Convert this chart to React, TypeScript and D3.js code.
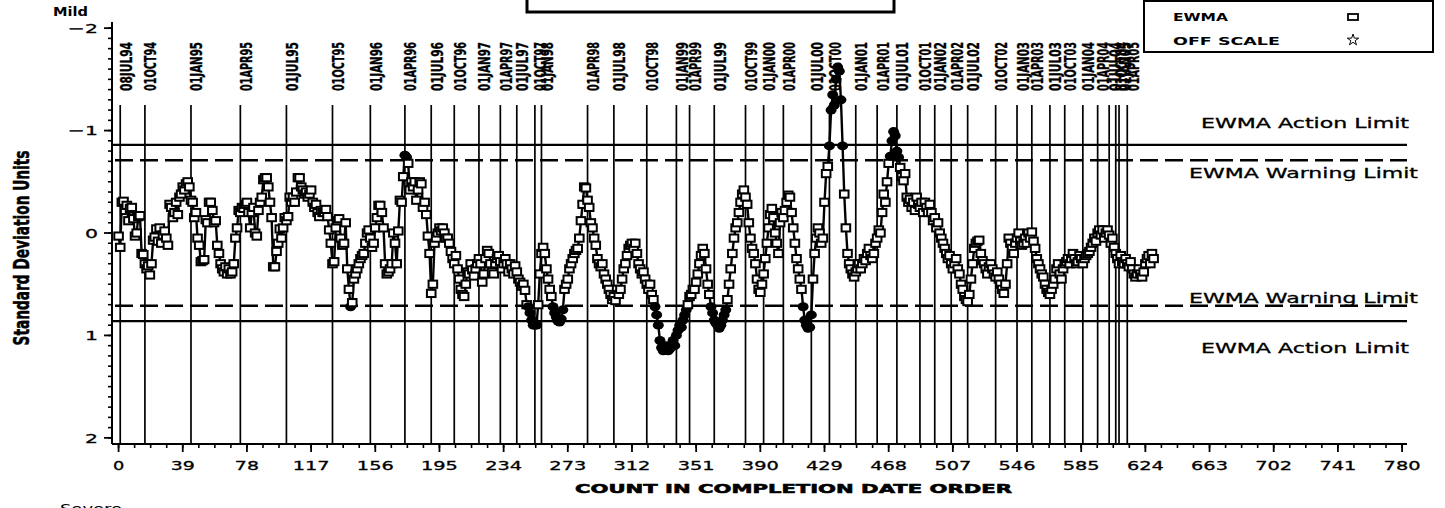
import React from 'react';
import * as d3 from 'd3';

const W = 1445;
const H = 508;

// EWMA values in standard deviation units, by count in completion date order
const ewma: number[] = [
  0.03, 0.14, -0.30, -0.31, -0.22, -0.27, -0.12, -0.24, -0.25, -0.14,
  0.03, 0.00, -0.16, -0.17, 0.20, 0.21, 0.30, 0.35, 0.32, 0.41,
  0.30, 0.07, 0.04, -0.04, 0.08, -0.05, 0.10, 0.02, -0.02, 0.05,
  0.12, -0.28, -0.25, -0.15, -0.20, -0.30, -0.18, -0.35, -0.38, -0.45,
  -0.42, -0.48, -0.50, -0.45, -0.32, -0.30, -0.15, -0.20, 0.05, 0.12,
  0.28, 0.27, 0.26, -0.13, -0.10, -0.30, -0.30, -0.22, -0.10, -0.12,
  0.12, 0.20, 0.30, 0.35, 0.38, 0.33, 0.40, 0.35, 0.40, 0.38,
  0.30, 0.05, -0.05, -0.22, -0.20, -0.25, -0.24, -0.28, -0.30, -0.20,
  -0.05, -0.20, -0.25, 0.00, 0.03, -0.22, -0.30, -0.35, -0.52, -0.54,
  -0.54, -0.45, -0.30, -0.15, 0.33, 0.33, 0.18, 0.10, -0.04, 0.05,
  -0.05, -0.15, -0.12, -0.16, -0.35, -0.30, -0.35, -0.30, -0.40, -0.54,
  -0.54, -0.45, -0.42, -0.38, -0.40, -0.35, -0.38, -0.42, -0.30, -0.25,
  -0.28, -0.20, -0.16, -0.22, -0.20, -0.20, -0.23, -0.16, -0.03, 0.10,
  0.30, 0.28, -0.05, -0.12, -0.14, 0.05, 0.12, 0.10, -0.10, 0.35,
  0.55, 0.72, 0.68, 0.45, 0.40, 0.35, 0.30, 0.25, 0.22, 0.20,
  0.10, 0.00, -0.03, 0.05, 0.14, 0.10, -0.05, -0.15, -0.27, -0.27,
  -0.20, -0.05, 0.30, 0.40, 0.38, 0.35, 0.30, 0.00, 0.10, 0.30,
  -0.02, -0.32, -0.30, -0.55, -0.76, -0.74, -0.68, -0.42, -0.50, -0.45,
  -0.50, -0.32, -0.42, -0.50, -0.48, -0.25, -0.30, -0.18, 0.03, 0.20,
  0.59, 0.50, 0.10, 0.05, 0.00, -0.05, -0.02, -0.05, 0.00, 0.05,
  0.05, 0.10, 0.18, 0.25, 0.30, 0.22, 0.35, 0.45, 0.55, 0.60,
  0.62, 0.50, 0.38, 0.40, 0.30, 0.36, 0.42, 0.35, 0.30, 0.25,
  0.30, 0.48, 0.40, 0.25, 0.17, 0.20, 0.30, 0.38, 0.40, 0.30,
  0.25, 0.22, 0.28, 0.35, 0.30, 0.25, 0.30, 0.38, 0.30, 0.35,
  0.40, 0.32, 0.38, 0.45, 0.48, 0.52, 0.50, 0.56, 0.70, 0.72,
  0.78, 0.85, 0.90, 0.88, 0.90, 0.70, 0.40, 0.20, 0.14, 0.20,
  0.35, 0.45, 0.55, 0.62, 0.72, 0.78, 0.82, 0.86, 0.87, 0.84,
  0.75, 0.55, 0.50, 0.45, 0.35, 0.30, 0.25, 0.20, 0.17, 0.15,
  0.05, -0.12, -0.28, -0.45, -0.44, -0.32, -0.25, -0.10, -0.05, 0.05,
  0.12, 0.25, 0.30, 0.33, 0.30, 0.40, 0.45, 0.50, 0.55, 0.60,
  0.65, 0.62, 0.66, 0.55, 0.60, 0.55, 0.45, 0.35, 0.30, 0.22,
  0.15, 0.12, 0.10, 0.15, 0.10, 0.20, 0.30, 0.35, 0.40, 0.38,
  0.45, 0.50, 0.55, 0.50, 0.60, 0.65, 0.72, 0.80, 0.90, 1.05,
  1.12, 1.15, 1.14, 1.10, 1.15, 1.13, 1.10, 1.05, 1.10, 1.00,
  0.95, 0.90, 0.92, 0.85, 0.80, 0.75, 0.70, 0.62, 0.60, 0.55,
  0.55, 0.48, 0.40, 0.30, 0.22, 0.15, 0.20, 0.35, 0.50, 0.60,
  0.72, 0.78, 0.85, 0.88, 0.90, 0.93, 0.90, 0.85, 0.80, 0.75,
  0.65, 0.50, 0.35, 0.20, 0.05, -0.05, -0.10, -0.20, -0.30, -0.38,
  -0.42, -0.35, -0.28, -0.10, 0.05, 0.15, 0.20, 0.30, 0.45, 0.55,
  0.58, 0.50, 0.40, 0.25, 0.10, -0.05, -0.18, -0.24, -0.15, 0.00,
  0.10, 0.20, -0.10, -0.20, -0.15, -0.22, -0.30, -0.37, -0.35, -0.20,
  -0.05, 0.10, 0.25, 0.35, 0.45, 0.55, 0.72, 0.85, 0.90, 0.93,
  0.92, 0.80, 0.45, 0.20, 0.05, -0.05, 0.00, 0.10, 0.05, -0.30,
  -0.58, -0.65, -0.85, -1.20, -1.35, -1.25, -1.50, -1.62, -1.58, -1.30,
  -0.85, -0.38, -0.05, 0.20, 0.30, 0.35, 0.40, 0.43, 0.38, 0.35,
  0.30, 0.35, 0.30, 0.25, 0.27, 0.20, 0.15, 0.22, 0.25, 0.20,
  0.10, 0.05, -0.03, 0.00, -0.20, -0.38, -0.30, -0.50, -0.68, -0.75,
  -0.90, -0.99, -0.95, -0.80, -0.74, -0.64, -0.55, -0.51, -0.58, -0.35,
  -0.30, -0.33, -0.25, -0.30, -0.22, -0.35, -0.28, -0.25, -0.30, -0.20,
  -0.30, -0.25, -0.20, -0.28, -0.20, -0.12, -0.15, -0.05, -0.10, 0.00,
  0.05, 0.10, 0.15, 0.20, 0.25, 0.22, 0.30, 0.35, 0.30, 0.25,
  0.35, 0.40, 0.50, 0.55, 0.62, 0.65, 0.67, 0.60, 0.45, 0.30,
  0.15, 0.10, 0.08, 0.07, 0.20, 0.27, 0.30, 0.35, 0.40, 0.33,
  0.30, 0.35, 0.40, 0.43, 0.38, 0.45, 0.50, 0.55, 0.59, 0.50,
  0.30, 0.05, 0.10, 0.15, 0.20, 0.10, 0.05, 0.00, 0.08, 0.12,
  0.10, 0.05, 0.10, 0.00, 0.05, -0.01, 0.08, 0.15, 0.25, 0.30,
  0.35, 0.40, 0.43, 0.50, 0.55, 0.58, 0.60, 0.55, 0.50, 0.45,
  0.35, 0.30, 0.40, 0.45, 0.35, 0.30, 0.28, 0.25, 0.30, 0.25,
  0.20, 0.25, 0.30, 0.28, 0.22, 0.25, 0.30, 0.25, 0.22, 0.20,
  0.18, 0.14, 0.10, 0.05, 0.08, 0.00, -0.03, 0.02, -0.03, 0.05,
  0.00, -0.03, 0.02, 0.10, 0.05, 0.14, 0.20, 0.25, 0.30, 0.22,
  0.28, 0.30, 0.25, 0.30, 0.33, 0.28, 0.35, 0.40, 0.43, 0.40,
  0.35, 0.40, 0.43, 0.38, 0.30, 0.25, 0.22, 0.30, 0.20, 0.25,
];

// Date reference lines (label and count where the date falls)
const dateLabels: string[] = [
  '08JUL94', '01OCT94', '01JAN95', '01APR95', '01JUL95', '01OCT95', '01JAN96', '01APR96',
  '01JUL96', '01OCT96', '01JAN97', '01APR97', '01JUL97', '01OCT97', '01JAN98', '01APR98',
  '01JUL98', '01OCT98', '01JAN99', '01APR99', '01JUL99', '01OCT99', '01JAN00', '01APR00',
  '01JUL00', '01OCT00', '01JAN01', '01APR01', '01JUL01', '01OCT01', '01JAN02', '01APR02',
  '01JUL02', '01OCT02', '01JAN03', '01APR03', '01JUL03', '01OCT03', '01JAN04', '01APR04',
  '01JUL04', '01OCT04', '01JAN05', '01APR05',
];
const dateCounts: number[] = [
  1, 16, 44, 74, 102, 130, 153, 174,
  190, 204, 219, 232, 242, 253, 257, 285,
  301, 321, 339, 347, 362, 381, 392, 404,
  421, 432, 448, 461, 473, 487, 496, 506,
  516, 533, 546, 555, 566, 575, 586, 595,
  602, 606, 608, 613,
];

const xTicks: number[] = d3.range(0, 781, 39);
const xMinorTicks: number[] = d3.range(0, 781, 9.75);
const yTicks: number[] = [-2, -1, 0, 1, 2];
const yMinorTicks: number[] = d3.range(-20, 21).map((d) => d / 10);
const actionLimit = 0.86;
const warningLimit = 0.71;

const WIDE = "'DejaVu Sans', sans-serif";
const NARROW = "'Liberation Sans Narrow', 'DejaVu Sans Condensed', 'Liberation Sans', sans-serif";

function fmtY(v: number): string {
  return v < 0 ? '\u2212' + Math.abs(v) : String(v);
}

export default function App() {
  const x = d3.scaleLinear().domain([-4, 783]).range([112, 1407]);
  const y = d3.scaleLinear().domain([-2.06, 2.06]).range([22, 444]);
  const line = d3
    .line<number>()
    .x((_, i) => x(i))
    .y((d) => y(d));
  const xL = x.range()[0];
  const xR = x.range()[1];
  const yB = y.range()[1];
  const yT = y.range()[0];

  const limitLabels = [
    { text: 'EWMA Action Limit', y: 128, w: 208, x1: 1409 },
    { text: 'EWMA Warning Limit', y: 178, w: 229, x1: 1418 },
    { text: 'EWMA Warning Limit', y: 303, w: 229, x1: 1418 },
    { text: 'EWMA Action Limit', y: 353, w: 208, x1: 1409 },
  ];

  const starPath = d3.symbol(d3.symbolStar, 40)() || '';

  return (
    <div style={{ position: 'absolute', left: 0, top: 0 }}>
      <svg width={W} height={H} viewBox={`0 0 ${W} ${H}`} style={{ display: 'block', background: '#fff' }}>
        <rect x={0} y={0} width={W} height={H} fill="#fff" />
        {/* title box (cropped) */}
        <rect x={527} y={-20} width={367} height={32} fill="none" stroke="#000" strokeWidth={3} />

        {/* legend */}
        <rect x={1144} y={1} width={289} height={51} fill="none" stroke="#000" strokeWidth={2} />
        <text x={1173} y={21} fontFamily={WIDE} fontWeight="bold" fontSize={10} textLength={55} lengthAdjust="spacingAndGlyphs">EWMA</text>
        <text x={1173} y={45} fontFamily={WIDE} fontWeight="bold" fontSize={10} textLength={107} lengthAdjust="spacingAndGlyphs">OFF SCALE</text>
        <rect x={1348} y={14} width={10} height={6} fill="none" stroke="#000" strokeWidth={1.8} />
        <path d={starPath} transform="translate(1353,40)" fill="none" stroke="#000" strokeWidth={1} />

        {/* Mild / Severe */}
        <text x={53} y={16} fontFamily={WIDE} fontWeight="bold" fontSize={13} textLength={35} lengthAdjust="spacingAndGlyphs">Mild</text>
        <text x={60} y={513} fontFamily={WIDE} fontSize={13} textLength={62} lengthAdjust="spacingAndGlyphs">Severe</text>

        {/* Y axis title */}
        <text
          transform={`translate(29,248) rotate(-90)`}
          textAnchor="middle"
          fontFamily={NARROW}
          fontWeight="bold"
          fontSize={21}
          textLength={195}
          lengthAdjust="spacingAndGlyphs"
          stroke="#000"
          strokeWidth={0.5}
        >
          Standard Deviation Units
        </text>

        {/* Date reference lines and labels */}
        {dateCounts.map((c, i) => (
          <g key={'d' + i}>
            <line x1={x(c)} x2={x(c)} y1={105} y2={yB} stroke="#000" strokeWidth={1.7} />
            <text
              transform={`translate(${x(c) + 11.5},91) rotate(-90)`}
              fontFamily={NARROW}
              fontWeight="bold"
              fontSize={16}
              textLength={49}
              lengthAdjust="spacingAndGlyphs"
              stroke="#000"
              strokeWidth={0.35}
            >
              {dateLabels[i]}
            </text>
          </g>
        ))}

        {/* Limits */}
        <line x1={xL} x2={xR} y1={y(-actionLimit)} y2={y(-actionLimit)} stroke="#000" strokeWidth={2.2} />
        <line x1={xL} x2={xR} y1={y(actionLimit)} y2={y(actionLimit)} stroke="#000" strokeWidth={2.2} />
        <line x1={xL} x2={xR} y1={y(-warningLimit)} y2={y(-warningLimit)} stroke="#000" strokeWidth={2.6} strokeDasharray="18 7" strokeDashoffset={-3} />
        <line x1={xL} x2={xR} y1={y(warningLimit)} y2={y(warningLimit)} stroke="#000" strokeWidth={2.6} strokeDasharray="18 7" strokeDashoffset={-3} />
        {limitLabels.map((l, i) => (
          <text key={'l' + i} x={l.x1} y={l.y} textAnchor="end" fontFamily={WIDE} fontSize={14} textLength={l.w} lengthAdjust="spacingAndGlyphs" fontWeight={500} stroke="#000" strokeWidth={0.3}>
            {l.text}
          </text>
        ))}

        {/* series */}
        <path d={line(ewma) || ''} fill="none" stroke="#000" strokeWidth={2.4} strokeLinejoin="round" />
        {ewma.map((v, i) =>
          Math.abs(v) > warningLimit ? (
            <ellipse key={'p' + i} cx={x(i)} cy={y(v)} rx={5.5} ry={4.5} fill="#000" />
          ) : (
            <rect key={'p' + i} x={x(i) - 4.3} y={y(v) - 3.6} width={8.6} height={7.2} fill="#fff" stroke="#000" strokeWidth={2} />
          )
        )}

        {/* Y axis */}
        <line x1={xL} x2={xL} y1={yT} y2={yB} stroke="#000" strokeWidth={2} />
        {yMinorTicks.map((t, i) => (
          <line key={'ym' + i} x1={xL - 4} x2={xL} y1={y(t)} y2={y(t)} stroke="#000" strokeWidth={1.6} />
        ))}
        {yTicks.map((t) => (
          <g key={'y' + t}>
            <line x1={xL - 8} x2={xL} y1={y(t)} y2={y(t)} stroke="#000" strokeWidth={1.8} />
            <text x={98} y={y(t) + 4.8} textAnchor="end" fontFamily={WIDE} fontSize={13} fontWeight={500} textLength={t < 0 ? 30 : 13} lengthAdjust="spacingAndGlyphs" stroke="#000" strokeWidth={0.3}>
              {fmtY(t)}
            </text>
          </g>
        ))}

        {/* X axis */}
        <line x1={xL} x2={xR} y1={yB} y2={yB} stroke="#000" strokeWidth={2} />
        {xMinorTicks.map((t, i) => (
          <line key={'xm' + i} x1={x(t)} x2={x(t)} y1={yB} y2={yB + 4} stroke="#000" strokeWidth={1.6} />
        ))}
        {xTicks.map((t) => {
          const s = String(t);
          return (
            <g key={'x' + t}>
              <line x1={x(t)} x2={x(t)} y1={yB} y2={yB + 8} stroke="#000" strokeWidth={1.8} />
              <text x={x(t)} y={470} textAnchor="middle" fontFamily={WIDE} fontSize={12} fontWeight={500} textLength={s.length * 11.3 + (s.length - 1) * 1.5} lengthAdjust="spacingAndGlyphs" stroke="#000" strokeWidth={0.3}>
                {s}
              </text>
            </g>
          );
        })}
        <text x={575} y={493} fontFamily={WIDE} fontWeight="bold" fontSize={13} textLength={437} lengthAdjust="spacingAndGlyphs" stroke="#000" strokeWidth={0.6}>
          COUNT IN COMPLETION DATE ORDER
        </text>
      </svg>
    </div>
  );
}
